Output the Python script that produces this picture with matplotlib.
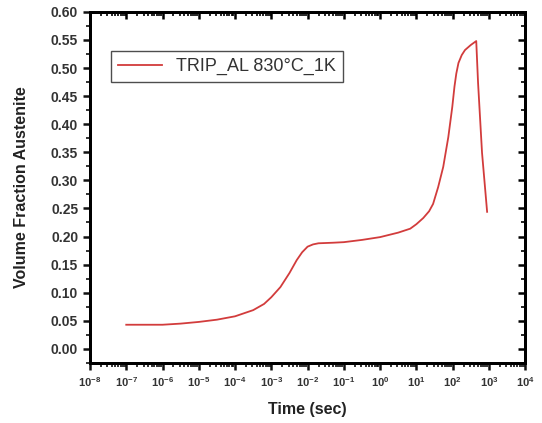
import numpy as np
import matplotlib
matplotlib.use("Agg")
import matplotlib.pyplot as plt
from matplotlib.ticker import LogLocator, FixedLocator, MultipleLocator

plt.rcParams['font.family'] = ['Liberation Sans', 'DejaVu Sans']

log_time = [-7.0, -6.0, -5.5, -5.0, -4.5, -4.0, -3.5, -3.2, -3.0, -2.75, -2.5, -2.3, -2.15,
            -2.0, -1.85, -1.7, -1.3, -1.0, -0.5, 0.0, 0.5, 0.83, 1.0, 1.19, 1.35, 1.46,
            1.6, 1.74, 1.88, 1.99, 2.05, 2.1, 2.16, 2.25, 2.34, 2.5, 2.65,
            2.70, 2.81, 2.95]
fraction = [0.043, 0.043, 0.045, 0.048, 0.052, 0.058, 0.069, 0.080, 0.092, 0.110, 0.135,
            0.158, 0.172, 0.182, 0.186, 0.188, 0.189, 0.190, 0.194, 0.199, 0.207, 0.214,
            0.222, 0.233, 0.245, 0.258, 0.288, 0.324, 0.377, 0.431, 0.467, 0.490, 0.509,
            0.523, 0.532, 0.541, 0.548, 0.474, 0.349, 0.244]
time = [10 ** v for v in log_time]
label = "TRIP_AL 830°C_1K"

fig = plt.figure(figsize=(5.42, 4.23), dpi=100)
ax = fig.add_axes([0.166, 0.142, 0.803, 0.830])
ax.plot(time, fraction, color='#d23c3c', lw=1.3, label=label)
ax.set_xscale('log')
ax.set_xlim(1e-8, 1e4)
ax.set_ylim(-0.025, 0.60)

ax.xaxis.set_major_locator(FixedLocator([10.0 ** k for k in range(-8, 5)]))
ax.xaxis.set_minor_locator(LogLocator(base=10, subs=np.arange(2, 10), numticks=100))
ax.set_xticklabels([r'$\mathregular{10^{%d}}$' % k for k in range(-8, 5)])
ax.yaxis.set_major_locator(MultipleLocator(0.05))
ax.yaxis.set_minor_locator(MultipleLocator(0.025))
ax.yaxis.set_major_formatter(plt.FuncFormatter(lambda v, p: f"{v:.2f}"))

for s in ax.spines.values():
    s.set_linewidth(2)
ax.tick_params(axis='both', which='major', direction='out', length=5, width=1.8,
               colors='#111', labelcolor='#333')
ax.tick_params(axis='both', which='minor', direction='out', length=3, width=1.2, colors='#111')
ax.tick_params(axis='x', labelsize=8)
ax.tick_params(axis='y', labelsize=10)
for t in ax.get_yticklabels() + ax.get_xticklabels():
    t.set_fontweight('bold')

ax2 = ax.twinx()
ax2.set_ylim(ax.get_ylim())
ax2.yaxis.set_major_locator(MultipleLocator(0.05))
ax2.yaxis.set_minor_locator(MultipleLocator(0.025))
ax2.tick_params(axis='y', which='major', direction='in', length=5, width=1.8, labelright=False)
ax2.tick_params(axis='y', which='minor', direction='in', length=3, width=1.2)
ax3 = ax.twiny()
ax3.set_xscale('log')
ax3.set_xlim(ax.get_xlim())
ax3.xaxis.set_major_locator(FixedLocator([10.0 ** k for k in range(-8, 5)]))
ax3.xaxis.set_minor_locator(LogLocator(base=10, subs=np.arange(2, 10), numticks=100))
ax3.tick_params(axis='x', which='major', direction='in', length=5, width=1.8, labeltop=False)
ax3.tick_params(axis='x', which='minor', direction='in', length=3, width=1.2)
for a in (ax2, ax3):
    for s in a.spines.values():
        s.set_linewidth(2)

ax.set_xlabel('Time (sec)', fontsize=11.5, fontweight='bold', color='#222', labelpad=10)
ax.set_ylabel('Volume Fraction Austenite', fontsize=11.5, fontweight='bold', color='#222', labelpad=16)

leg = ax.legend(loc='upper left', bbox_to_anchor=(0.028, 0.915), fontsize=13, frameon=True,
                fancybox=False, edgecolor='#222', handlelength=2.4, borderpad=0.4)
leg.get_frame().set_linewidth(1.0)
for t in leg.get_texts():
    t.set_color('#333')

fig.savefig('out.png', dpi=100)
